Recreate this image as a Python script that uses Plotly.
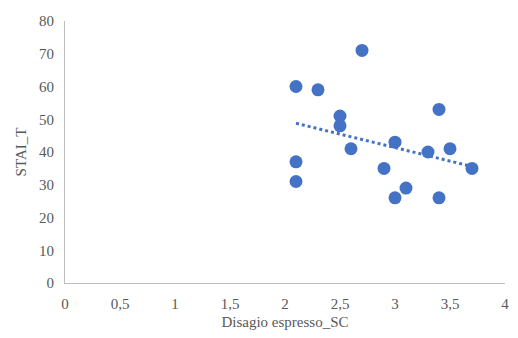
import numpy as np
import plotly.graph_objects as go

x_vals = [2.1, 2.1, 2.1, 2.3, 2.5, 2.5, 2.6, 2.7, 2.9, 3.0, 3.0, 3.1, 3.3, 3.4, 3.4, 3.5, 3.7]
y_vals = [60, 37, 31, 59, 51, 48, 41, 71, 35, 43, 26, 29, 40, 53, 26, 41, 35]
x_ticks = [0, 0.5, 1, 1.5, 2, 2.5, 3, 3.5, 4]
x_tick_labels = ["0", "0,5", "1", "1,5", "2", "2,5", "3", "3,5", "4"]
y_ticks = [0, 10, 20, 30, 40, 50, 60, 70, 80]

color = "#4472C4"
slope, intercept = np.polyfit(x_vals, y_vals, 1)
tx = [min(x_vals), max(x_vals)]
ty = [slope * v + intercept for v in tx]

fig = go.Figure()
fig.add_trace(go.Scatter(x=tx, y=ty, mode="lines",
                         line=dict(color=color, width=3, dash="dot"),
                         hoverinfo="skip", showlegend=False))
fig.add_trace(go.Scatter(x=x_vals, y=y_vals, mode="markers",
                         marker=dict(color=color, size=13),
                         showlegend=False))

axis_font = dict(family="Liberation Serif, Times New Roman, serif", size=15, color="#595959")
fig.update_layout(
    width=505, height=322,
    margin=dict(l=57, r=8, t=13, b=47, autoexpand=False),
    paper_bgcolor="white", plot_bgcolor="white",
    font=axis_font,
    xaxis=dict(range=[0, 4], tickvals=x_ticks, ticktext=x_tick_labels,
               showgrid=False, zeroline=False, showline=True,
               linecolor="#BFBFBF", linewidth=1, ticks="",
               tickfont=axis_font, ticklabelstandoff=7,
               ticklabeloverflow="allow",
               automargin=False,
               title=dict(text="Disagio espresso_SC", font=axis_font, standoff=12)),
    yaxis=dict(range=[0, 80], tickvals=y_ticks,
               showgrid=False, zeroline=False, showline=True,
               linecolor="#BFBFBF", linewidth=1, ticks="",
               tickfont=axis_font, ticklabelstandoff=7,
               automargin=False,
               title=dict(text="STAI_T", font=axis_font, standoff=8)),
)
fig.write_html("out.html")
